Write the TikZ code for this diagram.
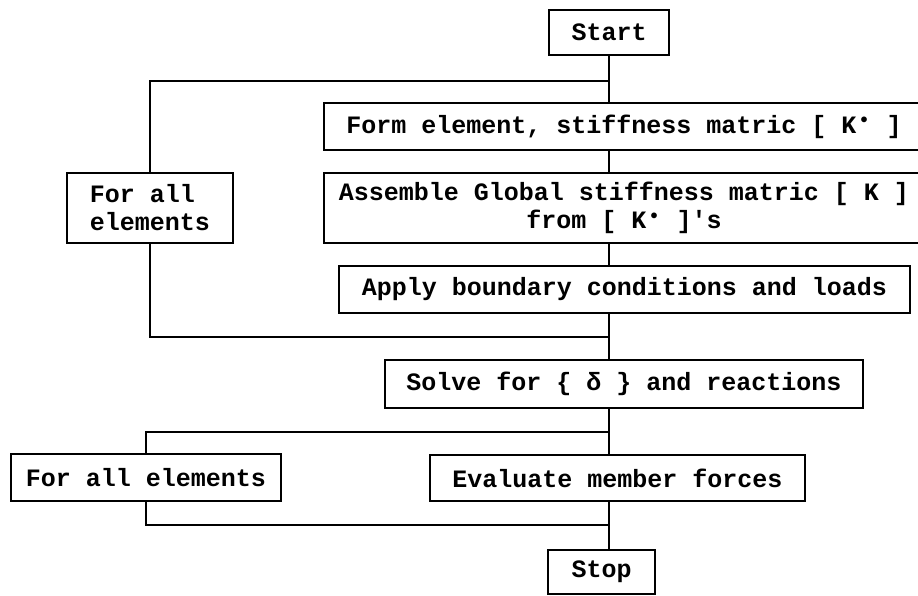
\documentclass[tikz,border=0pt]{standalone}
\usepackage{fontspec}
\newfontfamily\flowfont{Liberation Mono}
\def\Kdot{K\makebox[0.6em]{\raisebox{0.25em}{\fontsize{20}{20}\selectfont\textbullet}}}
\tikzset{
  stepbox/.style={draw, line width=2pt, inner sep=0pt, minimum height=47pt,
    font=\flowfont\fontsize{25}{28}\selectfont\bfseries},
  flow/.style={line width=2.4pt}
}

\begin{document}
\begin{tikzpicture}[x=1pt, y=-1pt]
    \useasboundingbox (0,0) rectangle (918,595);
    % main column
    \node[stepbox, minimum width=120pt, minimum height=45pt] (start) at (609,32.5) {Start};
    \node[stepbox, minimum width=600pt] (form) at (624,126.5) {Form element, stiffness matric [ \Kdot{} ]};
    \node[stepbox, minimum width=600pt, minimum height=70pt, align=center] (assemble) at (624,208)
      {Assemble Global stiffness matric [ K ]\\from [ \Kdot{} ]'s};
    \node[stepbox, minimum width=571pt] (apply) at (624.5,289.5) {Apply boundary conditions and loads};
    \node[stepbox, minimum width=478pt, minimum height=48pt] (solve) at (624,384) {Solve for \{ δ \} and reactions};
    \node[stepbox, minimum width=375pt, minimum height=46pt] (evaluate) at (617.5,478) {Evaluate member forces};
    \node[stepbox, minimum width=107pt, minimum height=44pt] (stop) at (601.5,572) {Stop};
    % loops
    \node[stepbox, minimum width=166pt, minimum height=70pt, align=left] (loopA) at (150,208) {For all\\elements};
    \node[stepbox, minimum width=270pt] (loopB) at (146,477.5) {For all elements};
    \coordinate (trunk) at (609,0);
    \coordinate (topjoin) at (609,81);
    \coordinate (botjoin) at (609,337);
    \coordinate (lowtop) at (609,432);
    \coordinate (lowbot) at (609,525);
    % connectors
    \draw[flow] (trunk |- start.south) -- (trunk |- form.north);
    \draw[flow] (trunk |- form.south) -- (trunk |- assemble.north);
    \draw[flow] (trunk |- assemble.south) -- (trunk |- apply.north);
    \draw[flow] (trunk |- apply.south) -- (trunk |- solve.north);
    \draw[flow] (trunk |- solve.south) -- (trunk |- evaluate.north);
    \draw[flow] (trunk |- evaluate.south) -- (trunk |- stop.north);
    \draw[flow] (topjoin) -| (loopA.north);
    \draw[flow] (loopA.south) |- (botjoin);
    \draw[flow] (lowtop) -| (loopB.north);
    \draw[flow] (loopB.south) |- (lowbot);
\end{tikzpicture}
\end{document}
